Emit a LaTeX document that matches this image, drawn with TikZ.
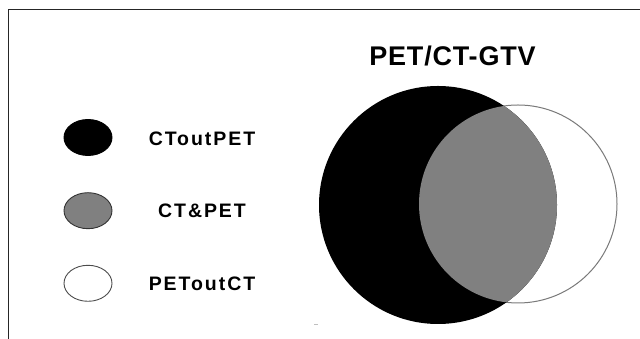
\documentclass[tikz,border=0pt]{standalone}
\usepackage{fontspec}
\setmainfont{Liberation Sans}
\newfontfamily\spacedsans[LetterSpace=10]{Liberation Sans}
\newfontfamily\titlesans[LetterSpace=3]{Liberation Sans}
\usetikzlibrary{shapes.geometric}
\definecolor{midgray}{HTML}{808080}
\definecolor{rimgray}{HTML}{7A7A7A}
\begin{document}
\begin{tikzpicture}[x=1pt,y=1pt,
  legendtxt/.style={font=\spacedsans\bfseries\fontsize{19.5}{21}\selectfont, inner sep=0pt},
  keymark/.style={ellipse, minimum width=48pt, minimum height=36pt, inner sep=0pt, line width=0.9pt},
  titletxt/.style={font=\titlesans\bfseries\fontsize{27}{30}\selectfont, inner sep=0pt}]
\useasboundingbox (0,0) rectangle (640,339);
\fill[white] (0,0) rectangle (640,339);

% frame, open at right and bottom
\coordinate (fl) at (8.5,0);
\coordinate (fc) at (8.5,329.5);
\coordinate (fr) at (640,329.5);
\draw[line width=1.4pt, black!85] (fl) -- (fc) -- (fr);

% legend
\node[keymark, fill=black, draw=black] (k1) at (88,201.5) {};
\node[keymark, fill=midgray, draw=black!80] (k2) at (88,128.3) {};
\node[keymark, fill=white, draw=black!70] (k3) at (88,55.7) {};
\node[legendtxt] (l1) at (202,200.7) {CToutPET};
\node[legendtxt] (l2) at (202,128.3) {CT\&PET};
\node[legendtxt] (l3) at (202,55.7) {PEToutCT};

% title
\node[titletxt] (title) at (452.5,282.7) {PET/CT-GTV};

% overlapping volumes
\coordinate (ct) at (438,134);
\coordinate (pet) at (518,135);
\draw[rimgray, line width=1pt] (pet) circle (99);
\fill[black] (ct) circle (119);
\begin{scope}
  \clip (ct) circle (119);
  \fill[midgray] (pet) circle (99);
\end{scope}

% small mark below
\draw[gray!50, line width=1pt] (314,14) -- (318,14);
\end{tikzpicture}
\end{document}
